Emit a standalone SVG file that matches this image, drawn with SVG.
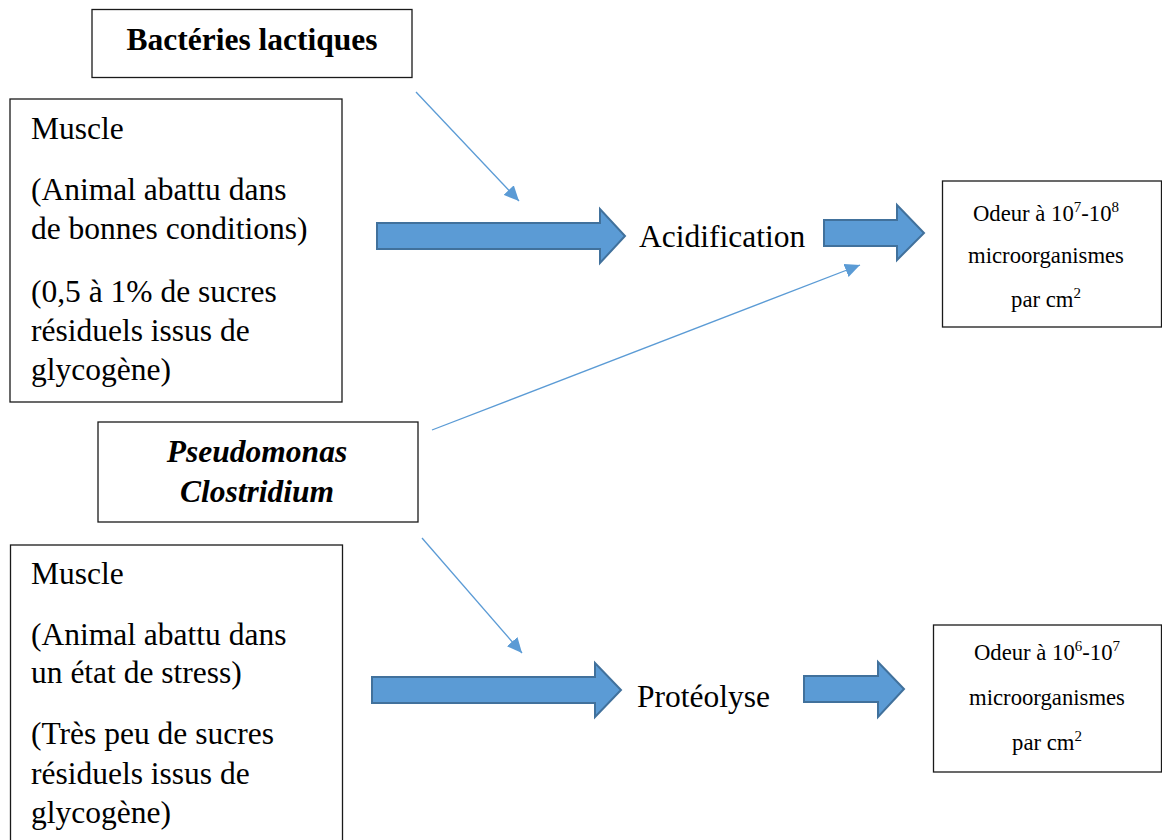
<svg xmlns="http://www.w3.org/2000/svg" width="1162" height="840" viewBox="0 0 1162 840">
<defs>
<style>
.box{fill:#fff;stroke:#1a1a1a;stroke-width:1.3}
.t{font-family:"Liberation Serif","Times New Roman",serif;font-size:31.5px;fill:#000}
.tb{font-family:"Liberation Serif","Times New Roman",serif;font-size:31.5px;font-weight:bold;fill:#000}
.tbi{font-family:"Liberation Serif","Times New Roman",serif;font-size:31.5px;font-weight:bold;font-style:italic;fill:#000}
.ts{font-family:"Liberation Serif","Times New Roman",serif;font-size:22.7px;fill:#000}
.sup{font-size:15px}
.blk{fill:#5B9BD5;stroke:#41719C;stroke-width:2;stroke-linejoin:miter}
.thin{fill:none;stroke:#5B9BD5;stroke-width:1.3}
</style>
<marker id="ah" markerUnits="userSpaceOnUse" markerWidth="16" markerHeight="14" refX="15" refY="7" orient="auto">
<path d="M0,0 L15,7 L0,14 z" fill="#5B9BD5"/>
</marker>
</defs>
<rect width="1162" height="840" fill="#fff"/>

<g id="bacteries">
<rect class="box" x="92" y="9.5" width="320" height="68"/>
<text class="tb" x="252" y="50" text-anchor="middle">Bactéries lactiques</text>
</g>

<g id="muscle1">
<rect class="box" x="10" y="99" width="332" height="303"/>
<text class="t" x="31" y="139">Muscle</text>
<text class="t" x="31" y="200">(Animal abattu dans</text>
<text class="t" x="31" y="239">de bonnes conditions)</text>
<text class="t" x="31" y="302">(0,5 à 1% de sucres</text>
<text class="t" x="31" y="341">résiduels issus de</text>
<text class="t" x="31" y="380">glycogène)</text>
</g>

<g id="pseudomonas">
<rect class="box" x="98" y="422" width="320" height="100"/>
<text class="tbi" x="257" y="462" text-anchor="middle">Pseudomonas</text>
<text class="tbi" x="257" y="502" text-anchor="middle">Clostridium</text>
</g>

<g id="muscle2">
<rect class="box" x="10.5" y="545" width="332" height="310"/>
<text class="t" x="31" y="584">Muscle</text>
<text class="t" x="31" y="645">(Animal abattu dans</text>
<text class="t" x="31" y="683">un état de stress)</text>
<text class="t" x="31" y="744">(Très peu de sucres</text>
<text class="t" x="31" y="784">résiduels issus de</text>
<text class="t" x="31" y="823">glycogène)</text>
</g>

<g id="acidification">
<text class="t" x="639" y="247">Acidification</text>
</g>

<g id="proteolyse">
<text class="t" x="637" y="707">Protéolyse</text>
</g>

<g id="odeur1">
<rect class="box" x="942.5" y="181" width="219" height="146"/>
<text class="ts" x="1046" y="221" text-anchor="middle">Odeur à 10<tspan class="sup" dy="-9">7</tspan><tspan dy="9">-10</tspan><tspan class="sup" dy="-9">8</tspan></text>
<text class="ts" x="1046" y="263" text-anchor="middle">microorganismes</text>
<text class="ts" x="1046" y="307" text-anchor="middle">par cm<tspan class="sup" dy="-9">2</tspan></text>
</g>

<g id="odeur2">
<rect class="box" x="933.5" y="625" width="228" height="147"/>
<text class="ts" x="1047" y="660" text-anchor="middle">Odeur à 10<tspan class="sup" dy="-9">6</tspan><tspan dy="9">-10</tspan><tspan class="sup" dy="-9">7</tspan></text>
<text class="ts" x="1047" y="705" text-anchor="middle">microorganismes</text>
<text class="ts" x="1047" y="750" text-anchor="middle">par cm<tspan class="sup" dy="-9">2</tspan></text>
</g>

<g id="connectors">
<path class="blk" d="M377,223 H600 V209 L625,236 L600,263 V249 H377 Z"/>
<path class="blk" d="M824,220 H897 V205 L924,233 L897,260 V246 H824 Z"/>
<path class="blk" d="M372,677 H595 V663 L621,690 L595,717 V703 H372 Z"/>
<path class="blk" d="M804,676 H878 V662 L904,689 L878,717 V702 H804 Z"/>
<line class="thin" x1="416" y1="92" x2="519" y2="201" marker-end="url(#ah)"/>
<line class="thin" x1="432" y1="430" x2="860" y2="265" marker-end="url(#ah)"/>
<line class="thin" x1="422" y1="538" x2="522" y2="653" marker-end="url(#ah)"/>
</g>
</svg>
